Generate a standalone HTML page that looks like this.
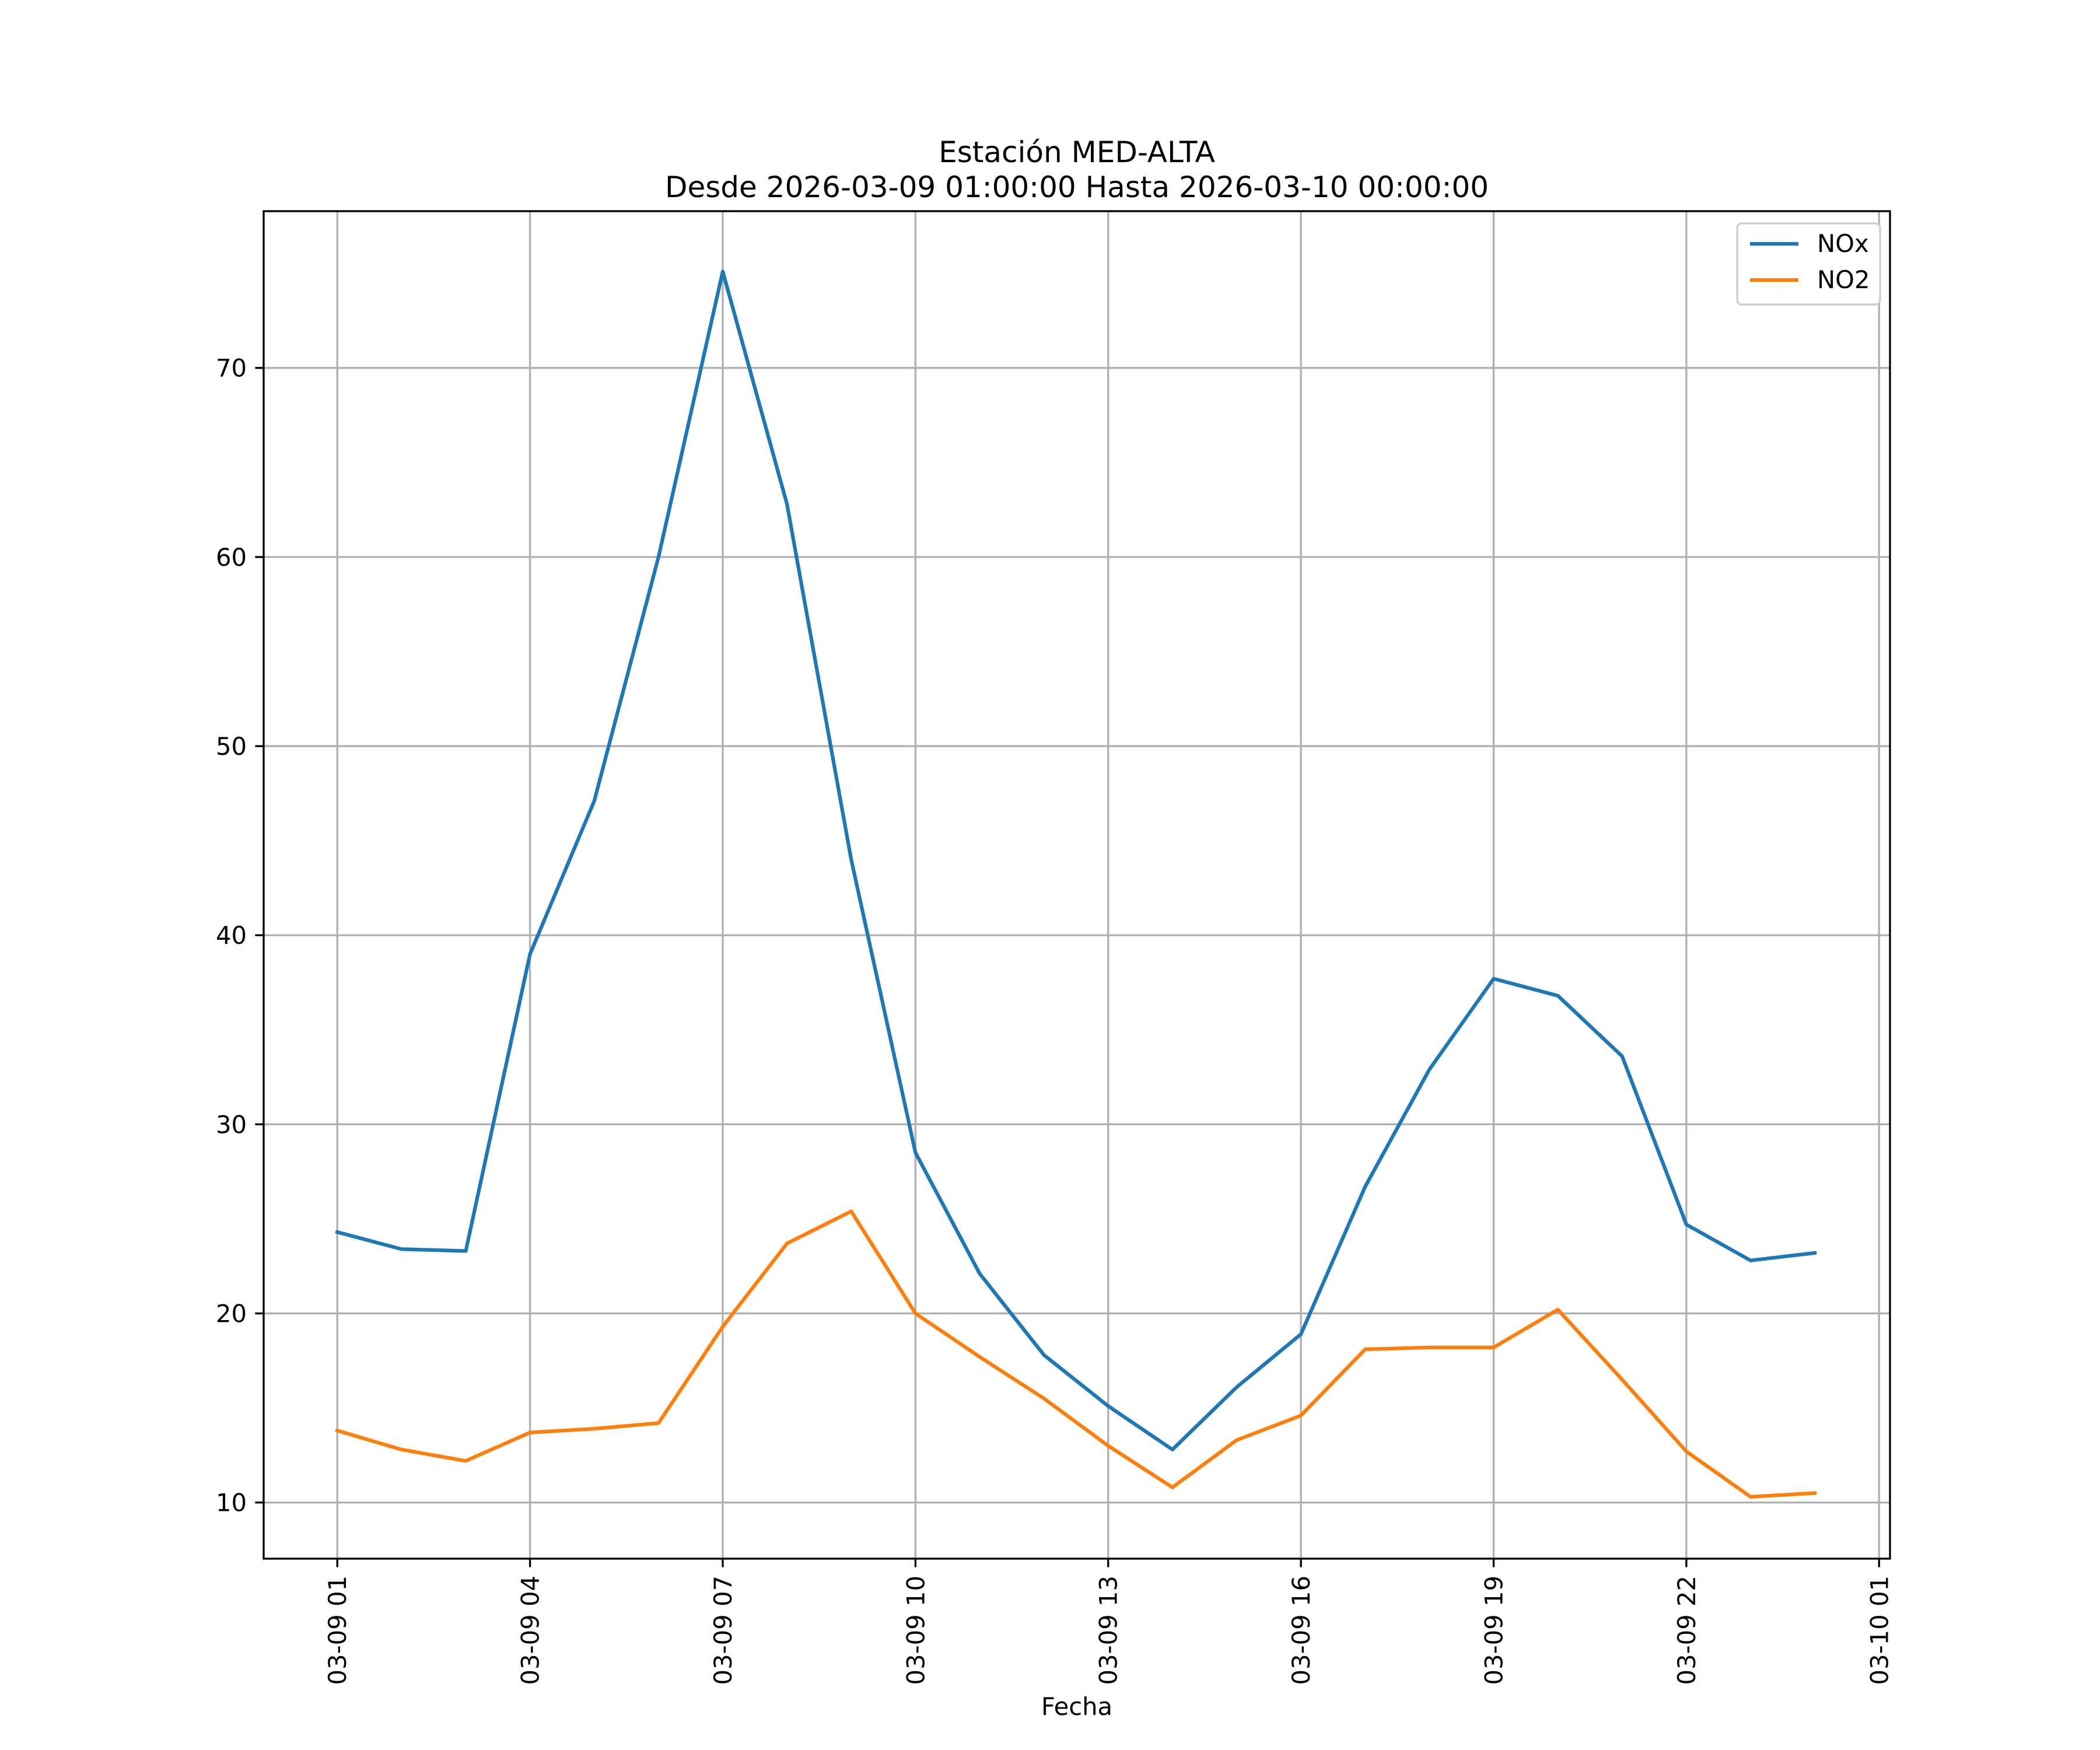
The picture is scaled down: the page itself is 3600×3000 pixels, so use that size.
<!DOCTYPE html>
<html><head><meta charset="utf-8"><style>
html,body{margin:0;padding:0;background:#fff;}
svg{display:block;font-family:"DejaVu Sans","Liberation Sans",sans-serif;}
</style></head><body>
<svg id="chart" width="3600" height="3000" viewBox="0 0 3600 3000" xmlns="http://www.w3.org/2000/svg">
<rect width="3600" height="3000" fill="#fff"/>
<text x="1846" y="278" font-size="50" text-anchor="middle">Estación MED-ALTA</text>
<text x="1846" y="338" font-size="50" text-anchor="middle">Desde 2026-03-09 01:00:00 Hasta 2026-03-10 00:00:00</text>
<g id="grid"></g>
<g id="series"></g>
<rect x="452" y="362" width="2788" height="2310" fill="none" stroke="#000" stroke-width="3.3"/>
<g id="ticks"></g>
<text x="1846" y="2940" font-size="41.7" text-anchor="middle">Fecha</text>
<g transform="translate(-15,0)">
<rect x="2993" y="383" width="245" height="139" rx="8" fill="#fff" stroke="#ccc" stroke-width="3.3"/>
<line x1="3015" y1="418" x2="3098" y2="418" stroke="#1f77b4" stroke-width="6.25"/>
<text x="3130" y="432" font-size="41.7">NOx</text>
<line x1="3015" y1="480" x2="3098" y2="480" stroke="#ff7f0e" stroke-width="6.25"/>
<text x="3130" y="494" font-size="41.7">NO2</text>
</g>
</svg>
<script>
const hours = [1,2,3,4,5,6,7,8,9,10,11,12,13,14,15,16,17,18,19,20,21,22,23,24];
const noxValues = [24.3,23.4,23.3,39,47.1,60,75.1,62.8,44,28.5,22.1,17.8,15.1,12.8,16.1,18.9,26.7,32.9,37.7,36.8,33.6,24.7,22.8,23.2];
const no2Values = [13.8,12.8,12.2,13.7,13.9,14.2,19.3,23.7,25.4,20,17.7,15.5,13.0,10.8,13.3,14.6,18.1,18.2,18.2,20.2,16.5,12.7,10.3,10.5];
const yTicks = [10,20,30,40,50,60,70];
const xTickHours = [1,4,7,10,13,16,19,22,25];
const xTickLabels = ["03-09 01","03-09 04","03-09 07","03-09 10","03-09 13","03-09 16","03-09 19","03-09 22","03-10 01"];

const L=452,R=3240,T=362,B=2672;
const xMin=-0.146,xMax=25.17,yMin=7.03,yMax=78.29;
const xs=h=>L+(h-xMin)/(xMax-xMin)*(R-L);
const ys=v=>B-(v-yMin)/(yMax-yMin)*(B-T);
const NS="http://www.w3.org/2000/svg";
const grid=document.getElementById('grid'),ticks=document.getElementById('ticks'),series=document.getElementById('series');
function mk(tag,attrs,parent){const e=document.createElementNS(NS,tag);for(const k in attrs)e.setAttribute(k,attrs[k]);parent.appendChild(e);return e;}
yTicks.forEach(v=>{
  const y=ys(v);
  const g=mk('line',{x1:L,x2:R,y1:y,y2:y,stroke:'#b0b0b0','stroke-width':3.3},grid);
  
  
  mk('line',{x1:L-14.6,x2:L,y1:y,y2:y,stroke:'#000','stroke-width':3.3},ticks);
  const t=mk('text',{x:L-29,y:y+15,'font-size':41.7,'text-anchor':'end'},ticks);
  t.textContent=v;
  
  
});
xTickHours.forEach((h,i)=>{
  const x=xs(h);
  const g=mk('line',{x1:x,x2:x,y1:T,y2:B,stroke:'#b0b0b0','stroke-width':3.3},grid);
  
  
  mk('line',{x1:x,x2:x,y1:B,y2:B+14.6,stroke:'#000','stroke-width':3.3},ticks);
  const t=mk('text',{x:0,y:0,'font-size':41.7,'text-anchor':'end',transform:`translate(${x+15},${B+29}) rotate(-90)`},ticks);
  t.textContent=xTickLabels[i];
  
  
});
function line(vals,color,name){
  const p=mk('polyline',{points:vals.map((v,i)=>xs(hours[i])+','+ys(v)).join(' '),fill:'none',stroke:color,'stroke-width':6.25,'stroke-linejoin':'round','stroke-linecap':'square'},series);
  
  
}
line(noxValues,'#1f77b4','nox-line');
line(no2Values,'#ff7f0e','no2-line');
</script>
</body></html>
